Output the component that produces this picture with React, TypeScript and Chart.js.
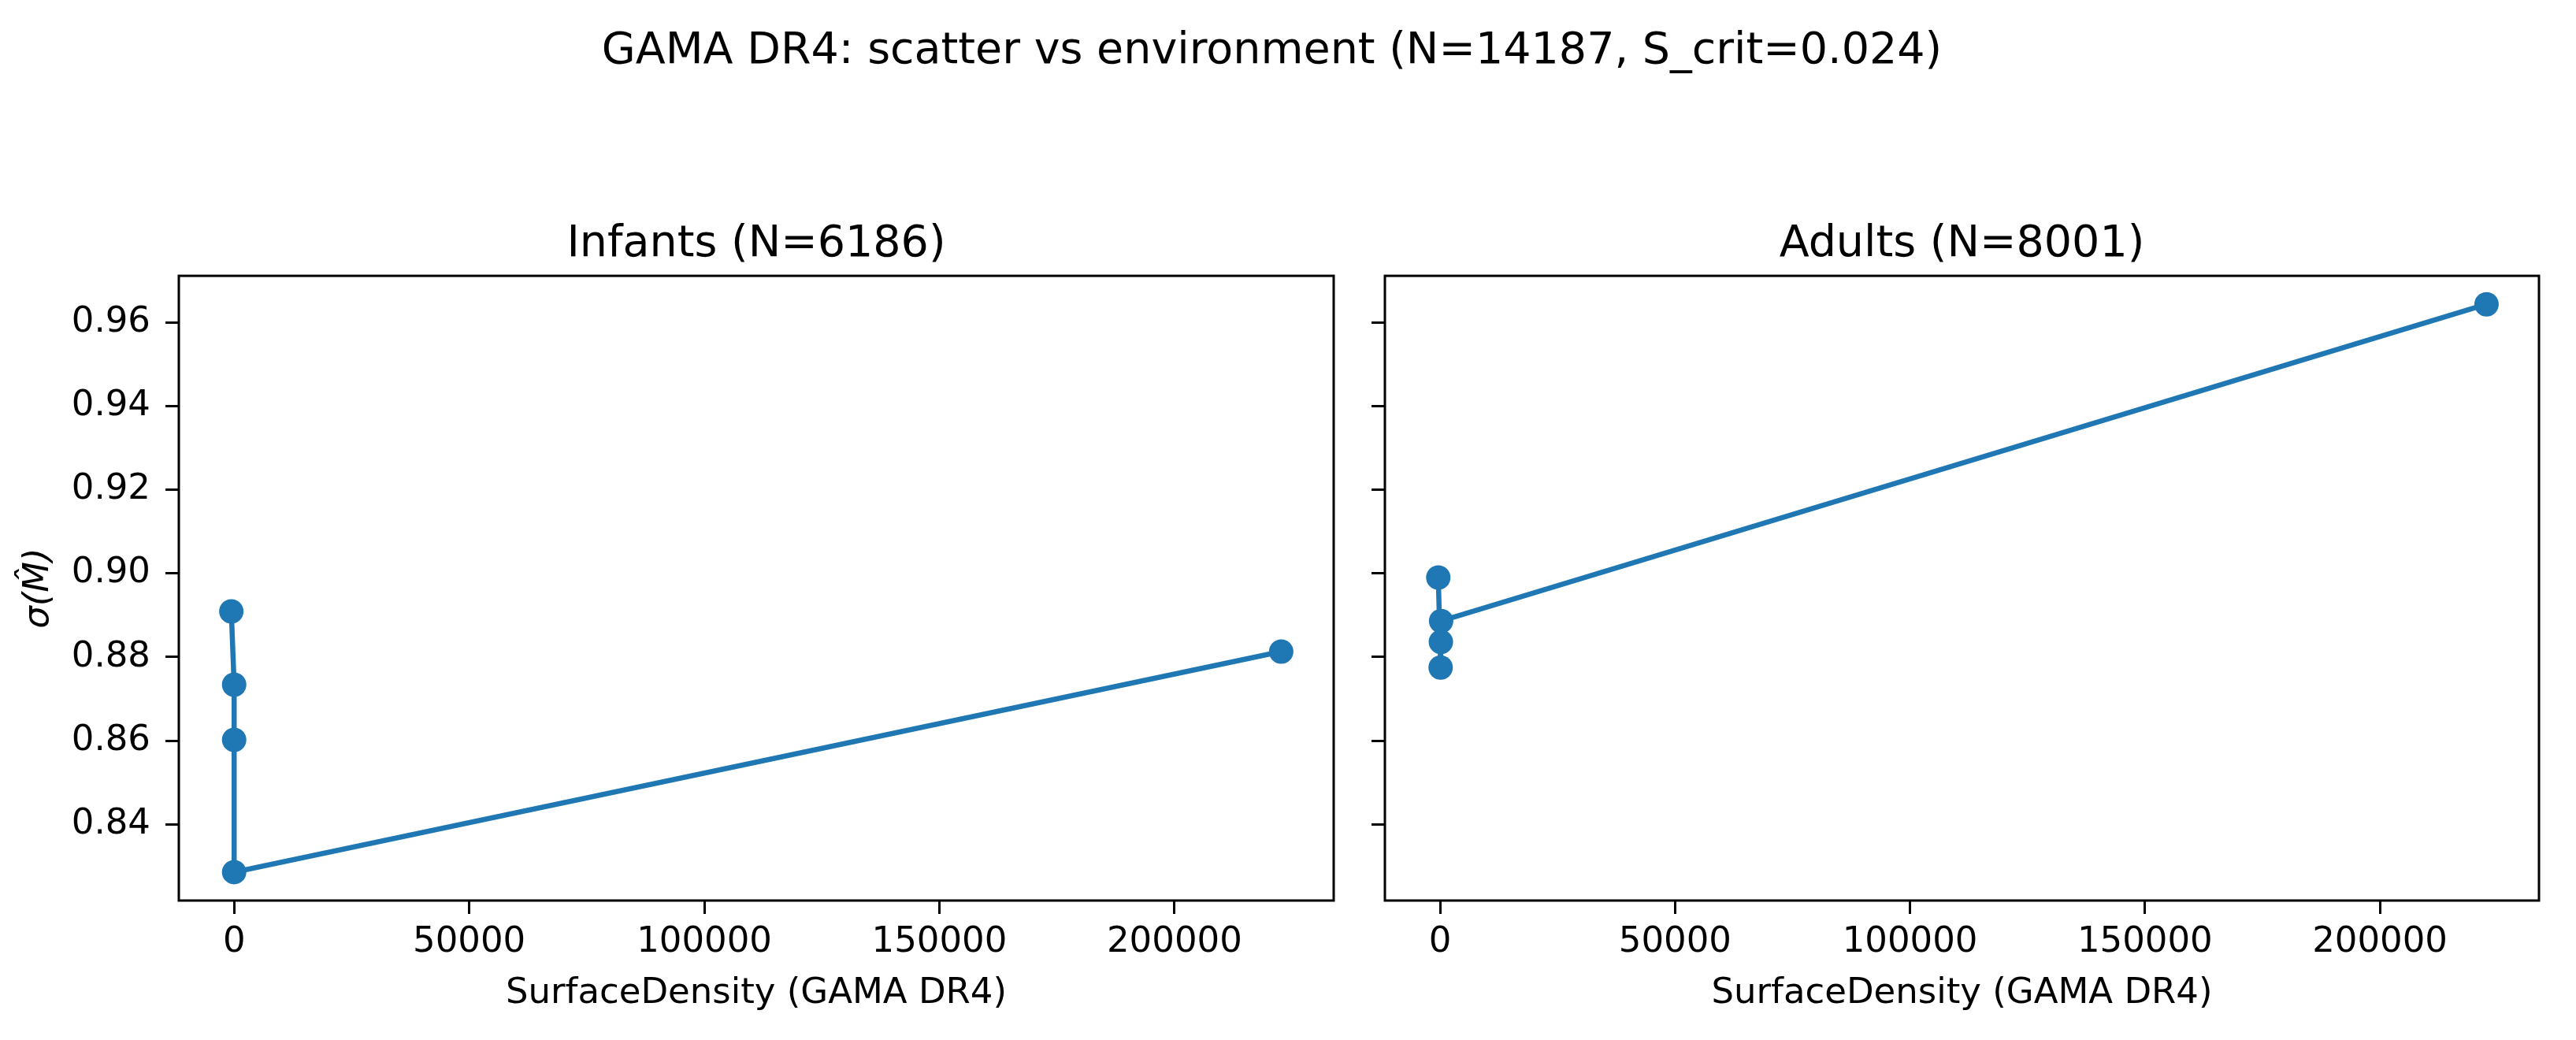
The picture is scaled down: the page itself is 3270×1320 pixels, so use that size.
import React, { useEffect, useRef } from 'react';
import { Chart, registerables, ChartConfiguration, Plugin } from 'chart.js';

Chart.register(...registerables);

// values
const infantDensity = [-600, 0, 0, 0, 222700];
const infantSigma = [0.8909, 0.8734, 0.8602, 0.8286, 0.8813];
const adultDensity = [-400, 100, 150, 200, 222700];
const adultSigma = [0.899, 0.8775, 0.8836, 0.8886, 0.9643];

const xTicks = [0, 50000, 100000, 150000, 200000];
const yTicks = [0.84, 0.86, 0.88, 0.9, 0.92, 0.94, 0.96];

const X_MIN = -11765;
const X_MAX = 233865;
const Y_MIN = 0.8218;
const Y_MAX = 0.9711;

const FONT = "'DejaVu Sans', sans-serif";
const BLUE = '#1f77b4';

// matplotlib style box around the axes
const framePlugin: Plugin = {
  id: 'frame',
  afterDatasetsDraw(chart) {
    const { ctx, chartArea: a } = chart;
    ctx.save();
    ctx.strokeStyle = '#000';
    ctx.lineWidth = 3;
    ctx.strokeRect(a.left, a.top, a.right - a.left, a.bottom - a.top);
    ctx.restore();
  },
};

interface PanelProps {
  title: string;
  xs: number[];
  ys: number[];
  showYLabels: boolean;
  left: number;
  width: number;
  yAxisWidth: number;
  padRight: number;
}

const Panel: React.FC<PanelProps> = ({ title, xs, ys, showYLabels, left, width, yAxisWidth, padRight }) => {
  const canvasRef = useRef<HTMLCanvasElement>(null);
  const chartRef = useRef<Chart | null>(null);

  useEffect(() => {
    if (!canvasRef.current) return;
    if (chartRef.current) chartRef.current.destroy();

    const config: ChartConfiguration = {
      type: 'scatter',
      data: {
        datasets: [
          {
            data: xs.map((x, i) => ({ x, y: ys[i] })),
            showLine: true,
            borderColor: BLUE,
            backgroundColor: BLUE,
            borderWidth: 6.5,
            pointRadius: 15.5,
            pointBorderWidth: 0,
            pointBackgroundColor: BLUE,
          },
        ],
      },
      options: {
        responsive: true,
        maintainAspectRatio: false,
        animation: false,
        events: [],
        layout: { padding: { top: 277, right: padRight, bottom: 0, left: 0 } },
        plugins: {
          legend: { display: false },
          tooltip: { enabled: false },
          title: {
            display: true,
            text: title,
            fullSize: false,
            color: '#000',
            font: { family: FONT, size: 55.5, weight: 'normal' },
            padding: { top: 0, bottom: 6.5 },
          },
        },
        scales: {
          x: {
            type: 'linear',
            min: X_MIN,
            max: X_MAX,
            afterBuildTicks: (scale) => {
              scale.ticks = xTicks.map((value) => ({ value }));
            },
            afterFit: (scale) => {
              scale.height = 177;
            },
            border: { display: false },
            grid: {
              drawOnChartArea: false,
              drawTicks: true,
              tickLength: 17,
              lineWidth: 3,
              color: '#000',
            },
            ticks: {
              color: '#000',
              padding: 9,
              maxRotation: 0,
              font: { family: FONT, size: 45 },
              callback: (value) => String(value),
            },
            title: {
              display: true,
              text: 'SurfaceDensity (GAMA DR4)',
              color: '#000',
              font: { family: FONT, size: 45 },
              padding: { top: 0, bottom: 32 },
            },
          },
          y: {
            type: 'linear',
            min: Y_MIN,
            max: Y_MAX,
            afterBuildTicks: (scale) => {
              scale.ticks = yTicks.map((value) => ({ value }));
            },
            afterFit: (scale) => {
              scale.width = yAxisWidth;
            },
            border: { display: false },
            grid: {
              drawOnChartArea: false,
              drawTicks: true,
              tickLength: 17,
              lineWidth: 3,
              color: '#000',
            },
            ticks: {
              color: '#000',
              padding: 19,
              font: { family: FONT, size: 45 },
              callback: (value) => (showYLabels ? Number(value).toFixed(2) : ''),
            },
            title: {
              display: showYLabels,
              text: 'σ(M̂)',
              color: '#000',
              font: { family: FONT, size: 45, style: 'italic' },
              padding: { top: 22, bottom: 0 },
            },
          },
        },
      },
      plugins: [framePlugin],
    };

    chartRef.current = new Chart(canvasRef.current, config);

    return () => {
      if (chartRef.current) {
        chartRef.current.destroy();
        chartRef.current = null;
      }
    };
  }, [title, xs, ys, showYLabels, yAxisWidth, padRight]);

  return (
    <div style={{ position: 'absolute', left, top: 0, width, height: 1320 }}>
      <canvas ref={canvasRef} />
    </div>
  );
};

const App: React.FC = () => {
  return (
    <div
      style={{
        position: 'absolute',
        left: 0,
        top: 0,
        width: 3270,
        height: 1320,
        background: '#fff',
        overflow: 'hidden',
      }}
    >
      <div
        style={{
          position: 'absolute',
          left: 0,
          top: 33,
          width: 3229,
          textAlign: 'center',
          fontFamily: FONT,
          fontSize: 55.5,
          lineHeight: '55.5px',
          color: '#000',
          whiteSpace: 'nowrap',
        }}
      >
        GAMA DR4: scatter vs environment (N=14187, S_crit=0.024)
      </div>
      <Panel
        title="Infants (N=6186)"
        xs={infantDensity}
        ys={infantSigma}
        showYLabels={true}
        left={0}
        width={1720}
        yAxisWidth={227}
        padRight={27}
      />
      <Panel
        title="Adults (N=8001)"
        xs={adultDensity}
        ys={adultSigma}
        showYLabels={false}
        left={1720}
        width={1550}
        yAxisWidth={38}
        padRight={47}
      />
    </div>
  );
};

export default App;
